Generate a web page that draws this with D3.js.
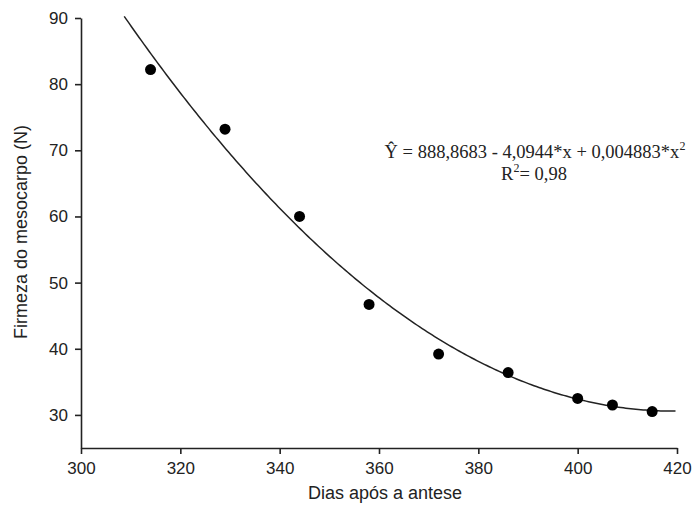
<!DOCTYPE html>
<html>
<head>
<meta charset="utf-8">
<script src="https://d3js.org/d3.v7.min.js"></script>
<style>
  body { margin: 0; background: #fff; }
  text { fill: #222; }
</style>
</head>
<body>
<div id="chart"></div>
<script>
// observed points
var dias = [314, 329, 344, 358, 372, 386, 400, 407, 415];
var firmeza = [82.2, 73.2, 60.0, 46.7, 39.2, 36.4, 32.5, 31.5, 30.5];
// fitted curve coefficients as printed on the chart (a + b*x + c*x^2)
var coef = [888.8683, -4.0944, 0.004883];
var curveX = [308.7, 420];
var xTicks = [300, 320, 340, 360, 380, 400, 420];
var yTicks = [30, 40, 50, 60, 70, 80, 90];

var width = 696, height = 522;
var margin = {top: 18, right: 19, bottom: 74, left: 81};

var svg = d3.select('#chart').append('svg')
    .attr('width', width)
    .attr('height', height);

var x = d3.scaleLinear().domain([300, 420]).range([margin.left, width - margin.right]);
var y = d3.scaleLinear().domain([25, 90]).range([height - margin.bottom, margin.top]);

var xAxis = svg.append('g')
    .attr('transform', 'translate(0,' + (height - margin.bottom) + ')')
    .call(d3.axisBottom(x).tickValues(xTicks).tickSize(6).tickSizeOuter(0).tickPadding(8));

var yAxis = svg.append('g')
    .attr('transform', 'translate(' + margin.left + ',0)')
    .call(d3.axisLeft(y).tickValues(yTicks).tickSize(6).tickSizeOuter(0).tickPadding(7));

[xAxis, yAxis].forEach(function(g) {
  g.selectAll('path, line').attr('stroke', '#222').attr('stroke-width', 1.6);
  g.selectAll('text')
      .attr('font-family', 'Liberation Sans, Arial, sans-serif')
      .attr('font-size', 17)
      .attr('fill', '#333');
});

// fitted curve
var fx = function(v) { return coef[0] + coef[1] * v + coef[2] * v * v; };
var cx = d3.range(curveX[0], curveX[1] + 0.001, 0.5);
svg.append('path')
    .datum(cx)
    .attr('fill', 'none')
    .attr('stroke', '#222')
    .attr('stroke-width', 1.5)
    .attr('d', d3.line().x(function(d) { return x(d); }).y(function(d) { return y(fx(d)); }));

// points
svg.selectAll('.pt')
    .data(dias)
    .enter()
    .append('circle')
    .attr('class', 'pt')
    .attr('cx', function(d) { return x(d); })
    .attr('cy', function(d, i) { return y(firmeza[i]); })
    .attr('r', 5.5)
    .attr('fill', '#000');

// axis titles
svg.append('text')
    .attr('x', (margin.left + width - margin.right) / 2 + 6)
    .attr('y', 499)
    .attr('text-anchor', 'middle')
    .attr('font-family', 'Liberation Sans, Arial, sans-serif')
    .attr('font-size', 18)
    .attr('fill', '#333')
    .text('Dias após a antese');

svg.append('text')
    .attr('transform', 'translate(27,232) rotate(-90)')
    .attr('text-anchor', 'middle')
    .attr('font-family', 'Liberation Sans, Arial, sans-serif')
    .attr('font-size', 18)
    .attr('fill', '#333')
    .text('Firmeza do mesocarpo (N)');

// equation
var eq = svg.append('text')
    .attr('x', 535)
    .attr('y', 158)
    .attr('text-anchor', 'middle')
    .attr('font-family', 'Liberation Serif, Times New Roman, serif')
    .attr('font-size', 18.5)
    .attr('fill', '#000');
eq.append('tspan').text('Ŷ = 888,8683 - 4,0944*x + 0,004883*x');
eq.append('tspan').attr('dy', -8).attr('font-size', 12).text('2');

var r2 = svg.append('text')
    .attr('x', 534)
    .attr('y', 180)
    .attr('text-anchor', 'middle')
    .attr('font-family', 'Liberation Serif, Times New Roman, serif')
    .attr('font-size', 18.5)
    .attr('fill', '#000');
r2.append('tspan').text('R');
r2.append('tspan').attr('dy', -8).attr('font-size', 12).text('2');
r2.append('tspan').attr('dy', 8).text('= 0,98');
</script>
</body>
</html>
